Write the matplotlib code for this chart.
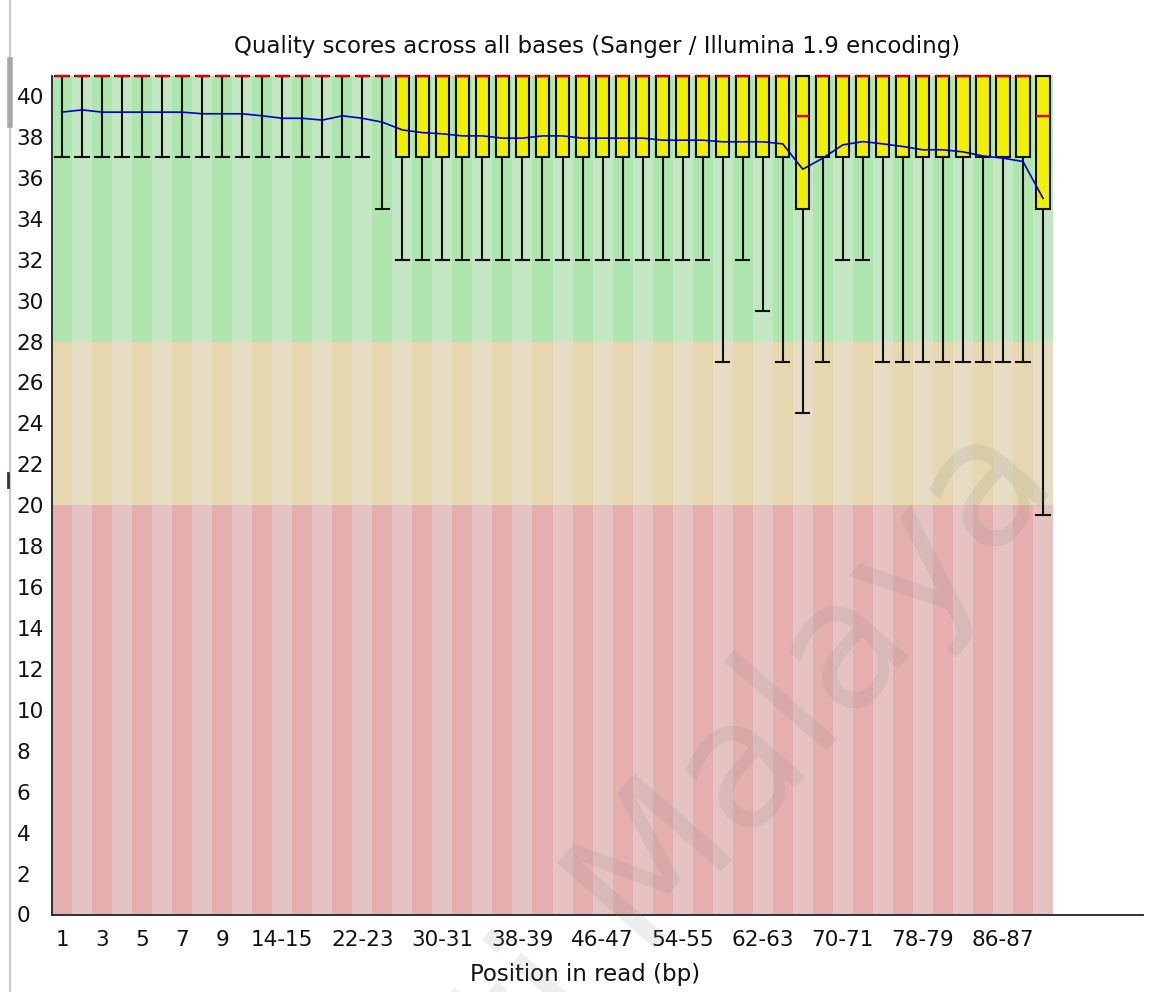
import matplotlib
matplotlib.use("Agg")
import matplotlib.pyplot as plt
from matplotlib.lines import Line2D
import numpy as np

# ---------------- data ----------------
categories = ['1', '2', '3', '4', '5', '6', '7', '8', '9',
              '10-11', '12-13', '14-15', '16-17', '18-19', '20-21', '22-23',
              '24-25', '26-27', '28-29', '30-31', '32-33', '34-35', '36-37',
              '38-39', '40-41', '42-43', '44-45', '46-47', '48-49', '50-51',
              '52-53', '54-55', '56-57', '58-59', '60-61', '62-63', '64-65',
              '66-67', '68-69', '70-71', '72-73', '74-75', '76-77', '78-79',
              '80-81', '82-83', '84-85', '86-87', '88-89', '90']

shown_labels = ['1', '3', '5', '7', '9', '14-15', '22-23', '30-31', '38-39',
                '46-47', '54-55', '62-63', '70-71', '78-79', '86-87']

medians = [41] * 37 + [39] + [41] * 11 + [39]
upper_q = [41] * 50
lower_q = [41] * 17 + [37] * 20 + [34.5] + [37] * 11 + [34.5]
p10 = ([37] * 16 + [34.5] + [32] * 16 +
       [27, 32, 29.5, 27, 24.5, 27, 32, 32] + [27] * 8 + [19.5])
p90 = [41] * 50
means = [39.21, 39.32, 39.21, 39.21, 39.21, 39.21, 39.21, 39.13, 39.13, 39.13,
         39.03, 38.91, 38.91, 38.82, 39.03, 38.91, 38.72, 38.34, 38.21, 38.15,
         38.05, 38.05, 37.94, 37.94, 38.05, 38.05, 37.94, 37.94, 37.94, 37.94,
         37.84, 37.84, 37.84, 37.76, 37.76, 37.76, 37.66, 36.42, 36.96, 37.61,
         37.77, 37.66, 37.53, 37.37, 37.37, 37.27, 37.07, 36.96, 36.80, 35.00]

band_edges = [0, 20, 28, 41]
band_dark = ['#e6afaf', '#e6d7af', '#afe6af']
band_light = ['#e6c3c3', '#e6dcc3', '#c3e6c3']

title = 'Quality scores across all bases (Sanger / Illumina 1.9 encoding)'
xlabel = 'Position in read (bp)'
watermark = 'Universiti Malaya'

# ---------------- figure ----------------
W, H = 1150, 992
fig = plt.figure(figsize=(W / 100, H / 100), dpi=100)
fig.patch.set_facecolor('white')

ax_l, ax_r, ax_t, ax_b = 52, 1143, 75.5, 914.5
ax = fig.add_axes([ax_l / W, 1 - ax_b / H, (ax_r - ax_l) / W, (ax_b - ax_t) / H])
n = len(categories)
x = np.arange(n)
colw = (1053 - 52) / n
ax.set_xlim(-0.5, -0.5 + (ax_r - ax_l) / colw)
ax.set_ylim(0, 41)

# background bands with alternating stripes
for b in range(3):
    cols = [band_dark[b] if i % 2 == 0 else band_light[b] for i in range(n)]
    ax.bar(x, band_edges[b + 1] - band_edges[b], bottom=band_edges[b],
           width=1.0, color=cols, linewidth=0, zorder=0)

# box plots
stats = []
for i in range(n):
    stats.append(dict(med=medians[i], q1=lower_q[i], q3=upper_q[i],
                      whislo=p10[i], whishi=p90[i], label=categories[i]))
lw = 1.5
ax.bxp(stats, positions=x, widths=0.66, capwidths=0.66, showfliers=False,
       patch_artist=True, manage_ticks=False,
       boxprops=dict(facecolor='#f0f000', edgecolor='#111111', linewidth=lw, clip_on=False),
       whiskerprops=dict(color='#111111', linewidth=lw, clip_on=False),
       capprops=dict(color='#111111', linewidth=lw, clip_on=False),
       medianprops=dict(color='#e00000', linewidth=lw + 0.2, clip_on=False, zorder=4),
       zorder=3)

# mean line
ax.plot(x, means, color='#0000c8', linewidth=1.2, zorder=5)

# axes styling
for s in ['top', 'right']:
    ax.spines[s].set_visible(False)
for s in ['left', 'bottom']:
    ax.spines[s].set_color('#222222')
    ax.spines[s].set_linewidth(1.3)

tick_font = dict(family='DejaVu Sans', size=15.5)
ax.set_yticks(np.arange(0, 41, 2))
ax.set_yticklabels([str(v) for v in range(0, 41, 2)], **tick_font, color='#111111')
ax.tick_params(axis='y', length=0, pad=25.5)
for lab in ax.get_yticklabels():
    lab.set_horizontalalignment('left')

ax.set_xticks([categories.index(s) for s in shown_labels])
ax.set_xticklabels(shown_labels, **tick_font, color='#111111')
ax.tick_params(axis='x', length=0, pad=11)

fig.text(597 / W, 1 - 46 / H, title, ha='center', va='center',
         family='DejaVu Sans', size=16.5, color='#111111')
fig.text(585 / W, 1 - 975 / H, xlabel, ha='center', va='center',
         family='DejaVu Sans', size=16.5, color='#111111')

# screenshot edge artefact
fig.add_artist(Line2D([10 / W, 10 / W], [0, 1], color='#c8c8c8', linewidth=1.5))
fig.add_artist(Line2D([10 / W, 10 / W], [1 - 60 / H, 1 - 125 / H], color='#a8a8a8', linewidth=4))
fig.add_artist(Line2D([8 / W, 8 / W], [1 - 473 / H, 1 - 487 / H], color='#502040', linewidth=2))

# watermark
fig.text(1060 / W, 1 - 482 / H, watermark, ha='right', va='baseline',
         rotation=49, rotation_mode='anchor', family='DejaVu Sans',
         size=128, color='#808080', alpha=0.14, zorder=10)

fig.savefig('out.png', dpi=100, facecolor='white')
